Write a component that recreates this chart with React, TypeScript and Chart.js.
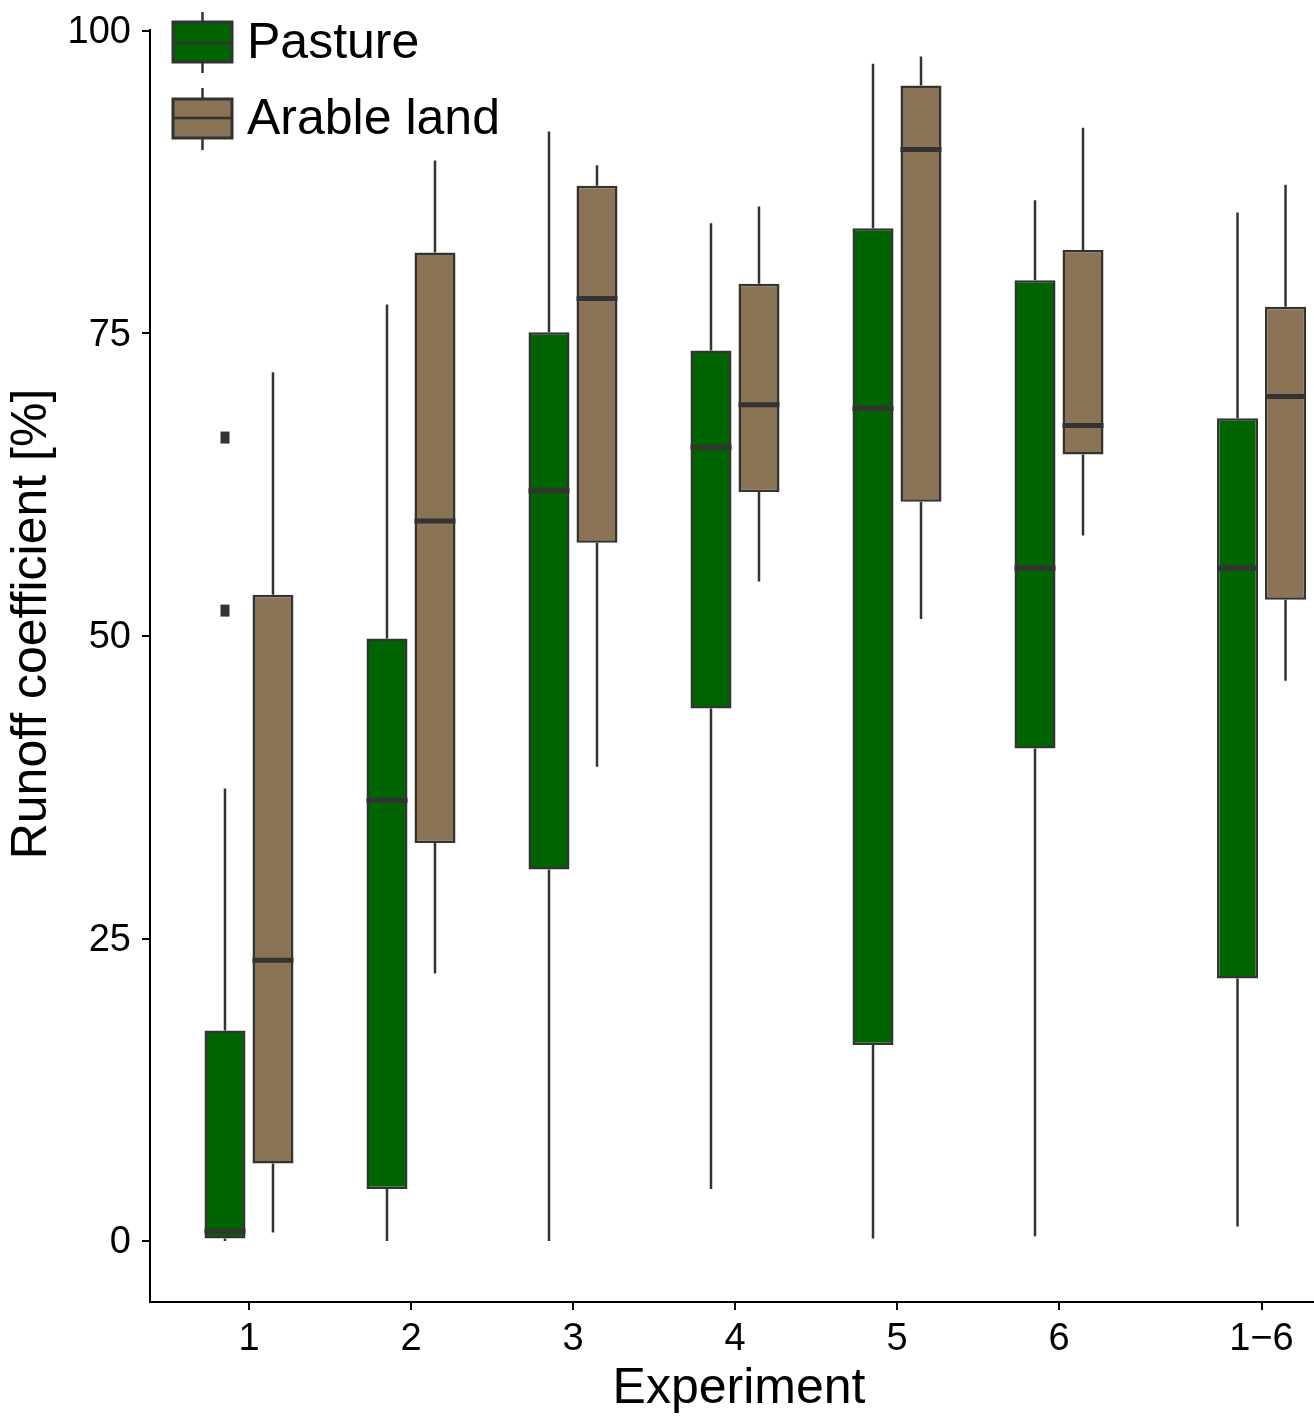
import React, { useEffect, useRef } from 'react';
import { Chart, registerables } from 'chart.js';

Chart.register(...registerables);

// ---- data ----
const categories = ['1', '2', '3', '4', '5', '6', '1\u22126'];
const xPositions = [1, 2, 3, 4, 5, 6, 7.25];
const yTickValues = [0, 25, 50, 75, 100];

const pastureMin = [0, 0, 0, 4.3, 0.2, 0.4, 1.2];
const pastureQ1 = [0.2, 4.3, 30.7, 44.0, 16.2, 40.7, 21.7];
const pastureMedian = [0.8, 36.4, 62.0, 65.6, 68.8, 55.6, 55.6];
const pastureQ3 = [17.4, 49.8, 75.1, 73.6, 83.7, 79.4, 68.0];
const pastureMax = [37.4, 77.4, 91.7, 84.1, 97.3, 86.0, 85.0];
const pastureOutliers: number[][] = [[52.1, 66.4], [], [], [], [], [], []];

const arableMin = [0.7, 22.1, 39.2, 54.5, 51.4, 58.3, 46.3];
const arableQ1 = [6.4, 32.9, 57.7, 61.9, 61.1, 65.0, 53.0];
const arableMedian = [23.2, 59.5, 77.9, 69.1, 90.2, 67.4, 69.8];
const arableQ3 = [53.4, 81.7, 87.2, 79.1, 95.5, 81.9, 77.2];
const arableMax = [71.8, 89.3, 88.9, 85.5, 97.9, 92.0, 87.3];
const arableOutliers: number[][] = [[], [], [], [], [], [], []];

const seriesNames = ['Pasture', 'Arable land'];
const seriesColors = ['#006400', '#8B7355'];
const xTitle = 'Experiment';
const yTitle = 'Runoff coefficient [%]';

const series = [
  { min: pastureMin, q1: pastureQ1, med: pastureMedian, q3: pastureQ3, max: pastureMax, out: pastureOutliers },
  { min: arableMin, q1: arableQ1, med: arableMedian, q3: arableQ3, max: arableMax, out: arableOutliers },
];

const FONT = '"Liberation Sans", Arial, sans-serif';
const LINE = '#333333';

const boxPlugin = {
  id: 'boxExtras',
  afterDatasetsDraw(chart: any) {
    const ctx = chart.ctx as CanvasRenderingContext2D;
    const ys = chart.scales.y;
    series.forEach((s, di) => {
      const meta = chart.getDatasetMeta(di);
      meta.data.forEach((bar: any, i: number) => {
        const { x, width } = bar.getProps(['x', 'width'], true);
        ctx.save();
        ctx.strokeStyle = LINE;
        ctx.lineWidth = 2.5;
        ctx.beginPath();
        ctx.moveTo(x, ys.getPixelForValue(s.q3[i]));
        ctx.lineTo(x, ys.getPixelForValue(s.max[i]));
        ctx.moveTo(x, ys.getPixelForValue(s.q1[i]));
        ctx.lineTo(x, ys.getPixelForValue(s.min[i]));
        ctx.stroke();
        const ym = ys.getPixelForValue(s.med[i]);
        ctx.lineWidth = 5;
        ctx.beginPath();
        ctx.moveTo(x - width / 2, ym);
        ctx.lineTo(x + width / 2, ym);
        ctx.stroke();
        ctx.fillStyle = LINE;
        s.out[i].forEach((v) => {
          const yo = ys.getPixelForValue(v);
          ctx.fillRect(x - 4.5, yo - 6, 9, 12);
        });
        ctx.restore();
      });
    });
  },
  afterDraw(chart: any) {
    const ctx = chart.ctx as CanvasRenderingContext2D;
    const left = chart.chartArea.left;
    // axis titles
    ctx.save();
    ctx.fillStyle = '#000';
    ctx.font = `50px ${FONT}`;
    ctx.textAlign = 'center';
    ctx.textBaseline = 'alphabetic';
    ctx.fillText(xTitle, 739, 1403);
    ctx.translate(46, 624);
    ctx.rotate(-Math.PI / 2);
    ctx.fillText(yTitle, 0, 0);
    ctx.restore();
    // legend
    const keys = [
      { top: 22, bottom: 62, med: 43, wTop: 12, wBot: 73, text: 43 },
      { top: 99, bottom: 138, med: 118, wTop: 88, wBot: 150, text: 119 },
    ];
    keys.forEach((k, i) => {
      const x0 = left + 23;
      const x1 = left + 82;
      const xc = (x0 + x1) / 2;
      ctx.save();
      ctx.strokeStyle = LINE;
      ctx.lineWidth = 2.5;
      ctx.beginPath();
      ctx.moveTo(xc, k.wTop);
      ctx.lineTo(xc, k.top);
      ctx.moveTo(xc, k.bottom);
      ctx.lineTo(xc, k.wBot);
      ctx.stroke();
      ctx.fillStyle = seriesColors[i];
      ctx.fillRect(x0, k.top, x1 - x0, k.bottom - k.top);
      ctx.lineWidth = 3;
      ctx.strokeRect(x0, k.top, x1 - x0, k.bottom - k.top);
      ctx.lineWidth = 2.5;
      ctx.beginPath();
      ctx.moveTo(x0, k.med);
      ctx.lineTo(x1, k.med);
      ctx.stroke();
      ctx.fillStyle = '#000';
      ctx.font = `50px ${FONT}`;
      ctx.textBaseline = 'middle';
      ctx.textAlign = 'left';
      ctx.fillText(seriesNames[i], left + 97, k.text + 1);
      ctx.restore();
    });
  },
};

export default function App() {
  const ref = useRef<HTMLCanvasElement | null>(null);
  useEffect(() => {
    if (!ref.current) return;
    const datasets = series.map((s, di) => ({
      label: seriesNames[di],
      data: xPositions.map((xv, i) => ({ x: xv, y: [s.q1[i], s.q3[i]] })),
      backgroundColor: seriesColors[di],
      borderColor: LINE,
      borderWidth: 2.5,
      borderSkipped: false,
      categoryPercentage: 0.5926,
      barPercentage: 0.854,
    }));
    const chart = new Chart(ref.current, {
      type: 'bar',
      data: { datasets: datasets as any },
      options: {
        animation: false,
        responsive: false,
        devicePixelRatio: 1,
        layout: { padding: { top: 30, left: 0, right: 0, bottom: 0 } },
        plugins: { legend: { display: false }, tooltip: { enabled: false } },
        scales: {
          x: {
            type: 'linear',
            min: 0.389,
            max: 7.574,
            offset: false,
            grid: { display: true, drawOnChartArea: false, drawTicks: true, tickLength: 8, color: '#000', lineWidth: 2, offset: false },
            border: { display: true, color: '#000', width: 2 },
            afterBuildTicks: (scale: any) => {
              scale.ticks = xPositions.map((v) => ({ value: v }));
            },
            afterFit: (scale: any) => {
              scale.height = 114;
              scale.paddingLeft = 0;
              scale.paddingRight = 0;
            },
            ticks: {
              color: '#000',
              font: { family: FONT, size: 38 },
              padding: 7,
              maxRotation: 0,
              autoSkip: false,
              callback: (v: any) => {
                const idx = xPositions.indexOf(Number(v));
                return idx >= 0 ? categories[idx] : '';
              },
            },
            title: { display: false },
          },
          y: {
            type: 'linear',
            min: -5.04,
            max: 100.08,
            grid: { display: true, drawOnChartArea: false, drawTicks: true, tickLength: 8, color: '#000', lineWidth: 2 },
            border: { display: true, color: '#000', width: 2 },
            afterBuildTicks: (scale: any) => {
              scale.ticks = yTickValues.map((v) => ({ value: v }));
            },
            afterFit: (scale: any) => {
              scale.width = 150;
              scale.paddingTop = 0;
              scale.paddingBottom = 0;
            },
            ticks: {
              color: '#000',
              font: { family: FONT, size: 38 },
              padding: 11,
              labelOffset: 2,
              callback: (v: any) => String(v),
            },
            title: { display: false },
          },
        },
      },
      plugins: [boxPlugin],
    });
    return () => chart.destroy();
  }, []);
  return (
    <div style={{ position: 'absolute', left: 0, top: 0, width: 1314, height: 1416, background: '#fff' }}>
      <canvas ref={ref} width={1314} height={1416} style={{ display: 'block', width: 1314, height: 1416 }} />
    </div>
  );
}
